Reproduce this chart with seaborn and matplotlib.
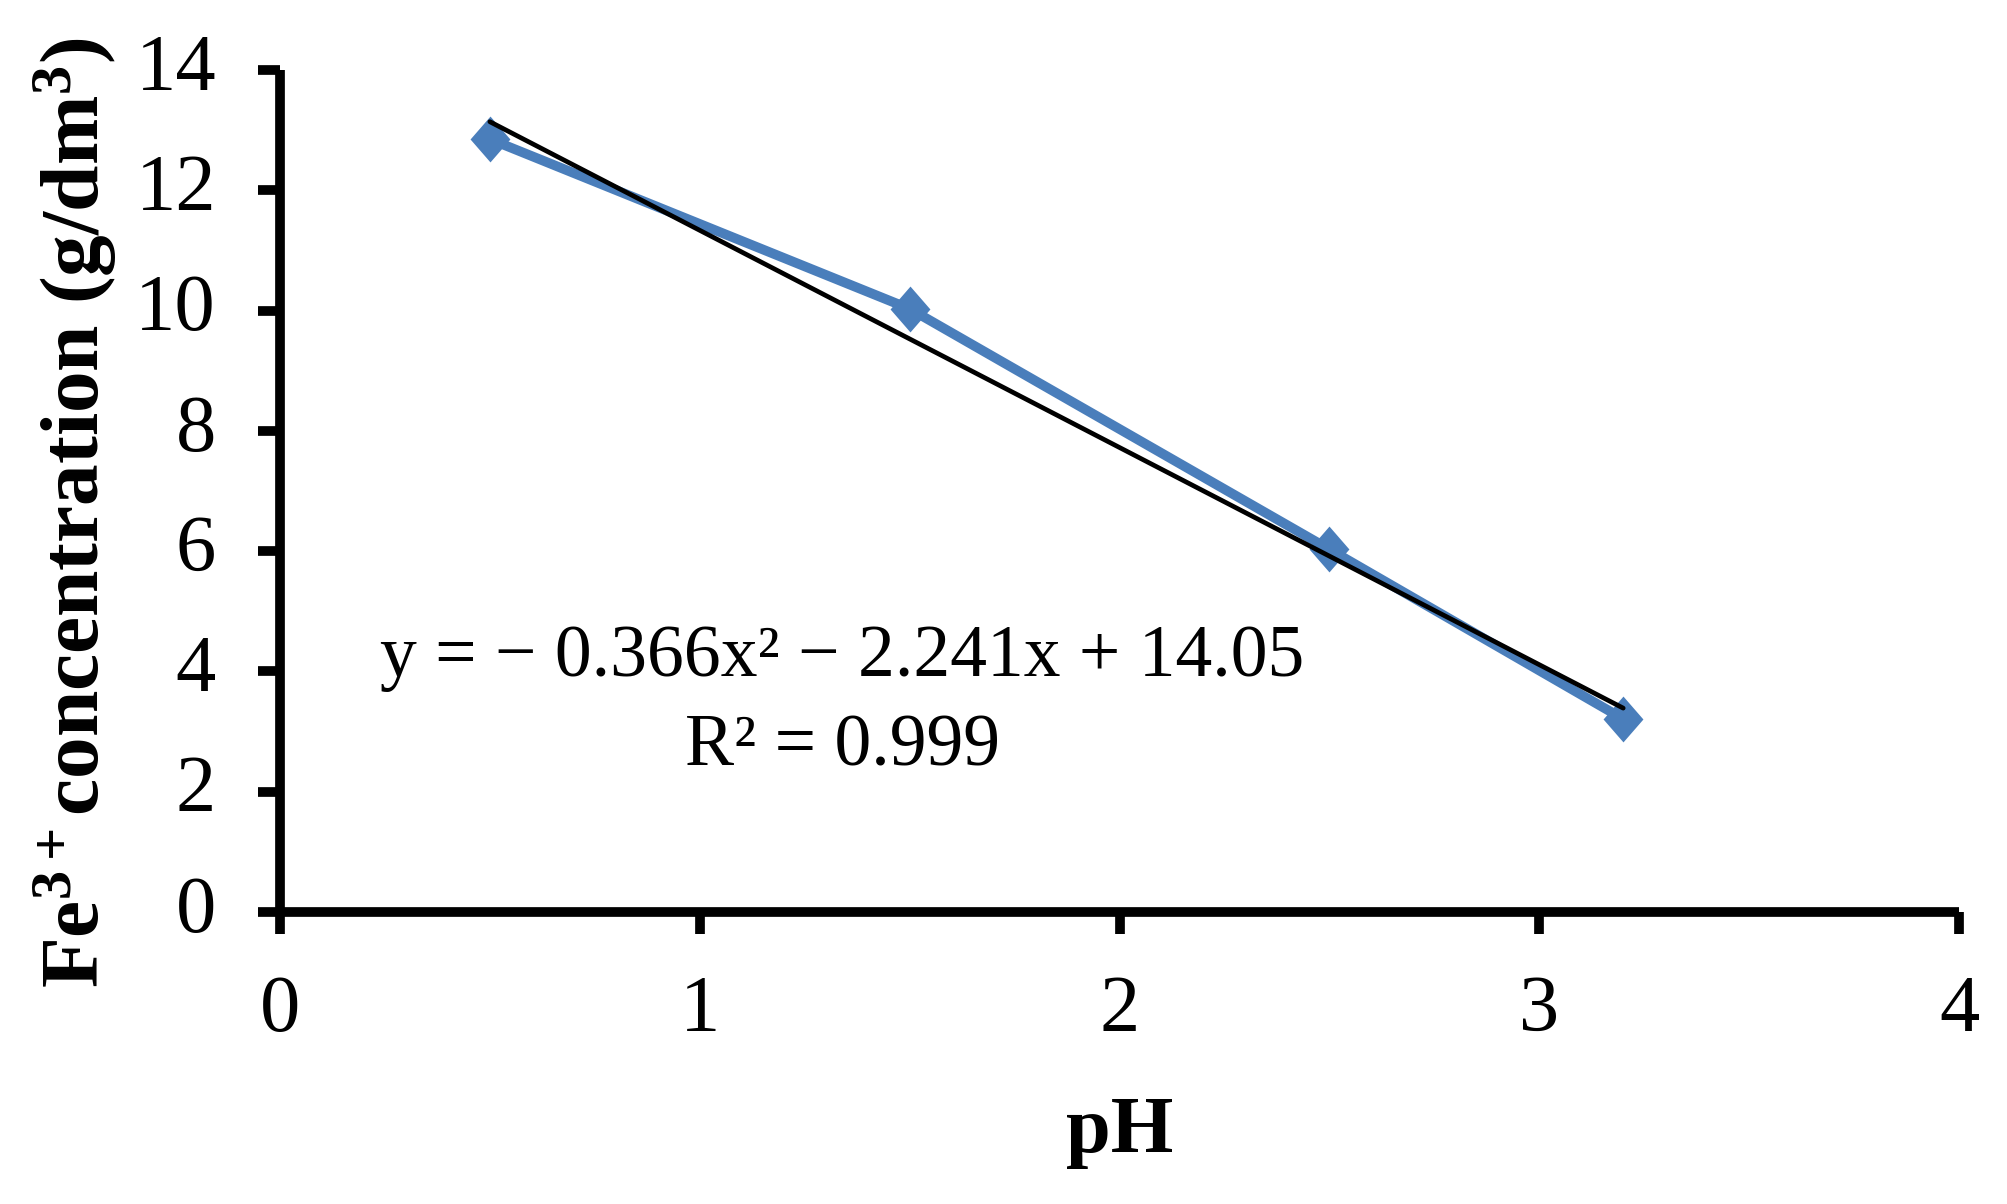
import matplotlib
matplotlib.use('Agg')
import matplotlib.pyplot as plt
from matplotlib.path import Path
from matplotlib.transforms import ScaledTranslation
import seaborn as sns
import pandas as pd

# ---- data ----
ph = [0.5, 1.5, 2.5, 3.2]
fe_conc = [12.85, 10.03, 6.03, 3.21]
trend_ph = [0.5, 3.2]
trend_conc = [13.14, 3.39]
x_ticks = [0, 1, 2, 3, 4]
y_ticks = [0, 2, 4, 6, 8, 10, 12, 14]
equation_text = "y = \u2212 0.366x\u00b2 \u2212 2.241x + 14.05"
r2_text = "R\u00b2 = 0.999"
x_label = "pH"
y_label = r"Fe$^{3+}$concentration (g/dm$^{3}$)"

blue = "#4A7EBB"

sns.set_theme(style="white")
plt.rcParams["font.family"] = ["Liberation Serif", "DejaVu Serif"]
plt.rcParams["mathtext.fontset"] = "custom"
plt.rcParams["mathtext.rm"] = "Liberation Serif:bold"
plt.rcParams["mathtext.it"] = "Liberation Serif:bold"
plt.rcParams["mathtext.bf"] = "Liberation Serif:bold"

# Excel-style diamond marker (slightly narrower than tall)
diamond = Path([(-0.87, 0.0), (0.0, 1.0), (0.87, 0.0), (0.0, -1.0), (-0.87, 0.0)],
               [Path.MOVETO, Path.LINETO, Path.LINETO, Path.LINETO, Path.CLOSEPOLY])

fig = plt.figure(figsize=(20.08, 12.04), dpi=100)
ax = fig.add_axes([0.13944, 0.24252, 0.83616, 0.69934])

data = pd.DataFrame({"pH": ph, "Fe": fe_conc})
trend = pd.DataFrame({"pH": trend_ph, "Fe": trend_conc})

sns.lineplot(data=data, x="pH", y="Fe", ax=ax, color=blue, linewidth=7,
             marker=diamond, markersize=33, markeredgewidth=0,
             markerfacecolor=blue, zorder=2)
sns.lineplot(data=trend, x="pH", y="Fe", ax=ax, color="black", linewidth=3.4,
             zorder=3)

ax.set_xlim(0, 4)
ax.set_ylim(0, 14)
ax.set_xticks(x_ticks)
ax.set_yticks(y_ticks)
ax.set_xticklabels([str(v) for v in x_ticks])
ax.set_yticklabels([str(v) for v in y_ticks])

for side in ["top", "right"]:
    ax.spines[side].set_visible(False)
for side in ["left", "bottom"]:
    ax.spines[side].set_linewidth(7)
    ax.spines[side].set_color("black")
    ax.spines[side].set_capstyle("butt")

ax.tick_params(axis="both", which="major", direction="out", bottom=True,
               left=True, length=16, width=7, color="black", labelsize=58,
               labelcolor="black")
ax.tick_params(axis="y", pad=30)
ax.tick_params(axis="x", pad=29)

# y tick labels sit slightly above their ticks in the reference
shift_up = ScaledTranslation(0, 6 / 72, fig.dpi_scale_trans)
for lab in ax.get_yticklabels():
    lab.set_transform(lab.get_transform() + shift_up)

ax.set_xlabel(x_label, fontsize=58, fontweight="bold", color="black")
ax.set_ylabel(y_label, fontsize=60, fontweight="bold", color="black")
ax.xaxis.set_label_coords(0.5, -0.2184)
ax.yaxis.set_label_coords(-0.096, 0.474)

ax.text(1.34, 3.92, equation_text, ha="center", va="baseline", fontsize=53,
        color="black")
ax.text(1.34, 2.43, r2_text, ha="center", va="baseline", fontsize=53,
        color="black")

fig.savefig("out.png", dpi=100, facecolor="white")
